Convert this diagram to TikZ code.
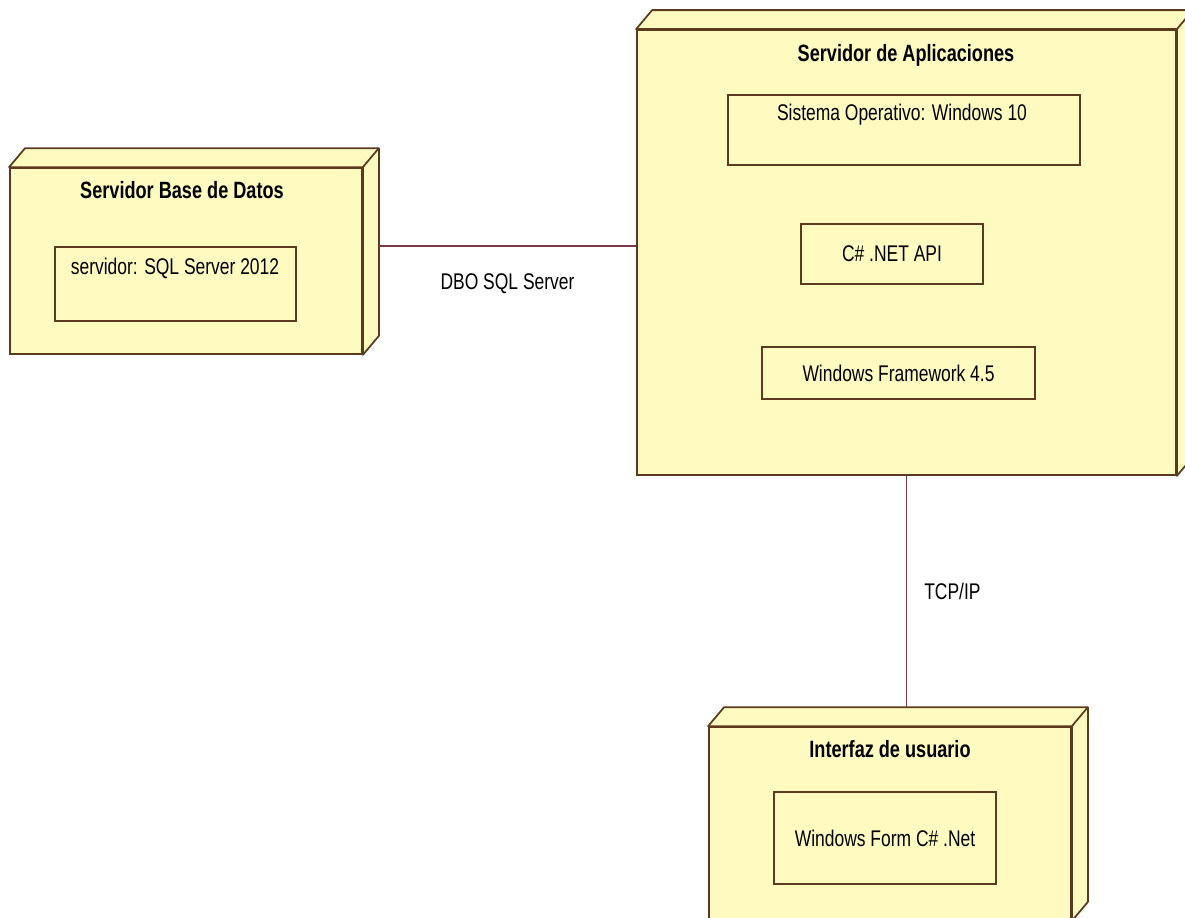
\documentclass[tikz,border=0pt]{standalone}
\usepackage{fontspec}
\setmainfont{Liberation Sans}[FakeStretch=0.77]
\usepackage{xcolor}
\usetikzlibrary{positioning, calc}

\definecolor{nodefill}{RGB}{255,251,192}
\definecolor{nodeline}{RGB}{92,58,32}
\definecolor{linkline}{RGB}{122,58,72}
\newcommand{\pxu}{0.02cm}

% depth of a deployment node (top and right faces)
\newcommand{\nodedepth}[1]{%
  \filldraw[fill=nodefill, draw=nodeline, line width=1pt, line join=round]
    (#1.north west) -- ++(16,-19) -- ($(#1.north east)+(16,-19)$)
    -- ($(#1.south east)+(16,-19)$) -- (#1.south east) -- (#1.north east) -- cycle;
  \draw[nodeline, line width=1pt] (#1.north east) -- ++(16,-19);
}

\begin{document}
\begin{tikzpicture}[
    x=0.02cm, y=-0.02cm,
    every node/.style={font=\fontsize{12.9}{15}\selectfont},
    devnode/.style={rectangle, draw=nodeline, fill=nodefill, line width=1pt, inner sep=0pt},
    part/.style={rectangle, draw=nodeline, fill=nodefill, line width=1pt, inner sep=0pt},
    title/.style={font=\fontsize{13.4}{15}\selectfont\bfseries},
    link/.style={draw=linkline, line width=1pt}
]
\useasboundingbox (0,0) rectangle (1185,917);

% Nodes
\node[devnode, minimum width=352*\pxu, minimum height=186*\pxu] (db) at (186,261) {};
\node[devnode, minimum width=539*\pxu, minimum height=445*\pxu] (app) at (906.5,252.5) {};
\node[devnode, minimum width=362*\pxu, minimum height=193*\pxu] (ui) at (890,823.5) {};
\nodedepth{db}
\nodedepth{app}
\nodedepth{ui}

% Titles
\node[title] (dbtitle) at (182,190) {Servidor Base de Datos};
\node[title] (apptitle) at (906,55) {Servidor de Aplicaciones};
\node[title] (uititle) at (890,749) {Interfaz de usuario};

% Parts
\node[part, minimum width=241*\pxu, minimum height=74*\pxu] (sql) at (175.5,284) {};
\node (sqltext) at (175,268) {servidor: SQL Server 2012};
\node[part, minimum width=352*\pxu, minimum height=70*\pxu] (os) at (904,130) {};
\node (ostext) at (902,115) {Sistema Operativo: Windows 10};
\node[part, minimum width=182*\pxu, minimum height=60*\pxu] (api) at (892,254) {C\# .NET API};
\node[part, minimum width=273*\pxu, minimum height=52*\pxu] (fw) at (898.5,373) {Windows Framework 4.5};
\node[part, minimum width=222*\pxu, minimum height=92*\pxu] (form) at (885,838) {Windows Form C\# .Net};

% Links
\coordinate (dbport) at ($(db.north east)+(16,79)$);
\coordinate (uiport) at ($(ui.north)+(16,-19)$);
\draw[link] (dbport) -- (app.west |- dbport)
  node[midway, below=0.42cm] (dbolabel) {DBO SQL Server};
\draw[link] (app.south) -- (app.south |- uiport)
  node[midway, right=0.22cm] (tcplabel) {TCP/IP};

\end{tikzpicture}
\end{document}
